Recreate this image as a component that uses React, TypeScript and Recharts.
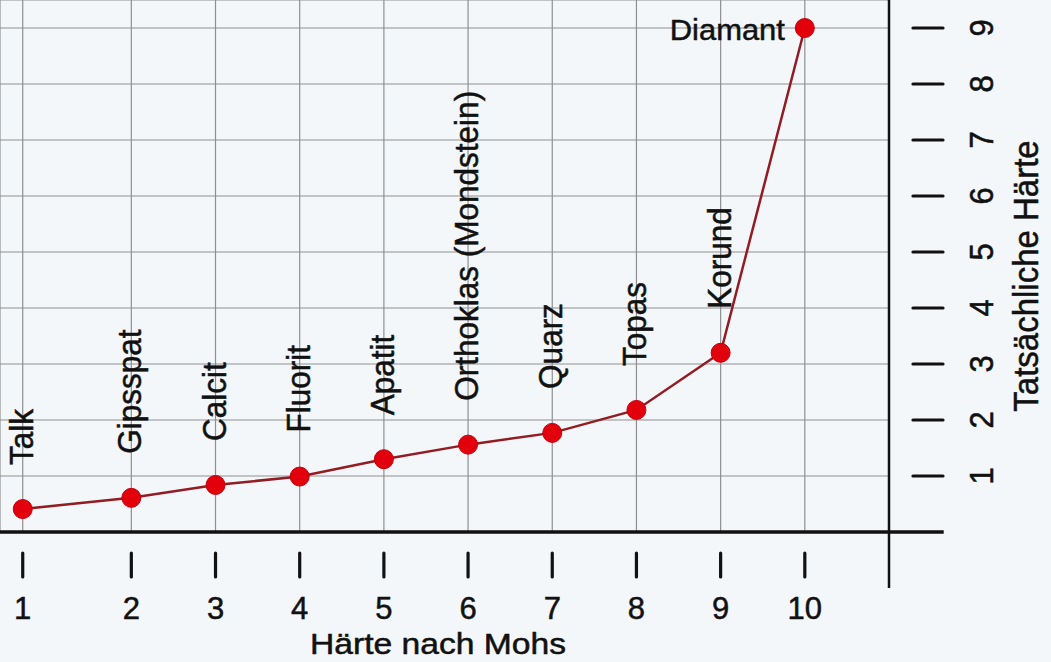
import { CartesianGrid, LabelList, Line, LineChart, ReferenceLine, XAxis, YAxis } from "recharts";

const mohs = [1, 2, 3, 4, 5, 6, 7, 8, 9, 10];
// where each Mohs step sits on the horizontal scale of the picture (step 1 is drawn a bit further left)
const mohsPos = [0.71, 2, 3, 4, 5, 6, 7, 8, 9, 10];
const minerals = [
  "Talk",
  "Gipsspat",
  "Calcit",
  "Fluorit",
  "Apatit",
  "Orthoklas (Mondstein)",
  "Quarz",
  "Topas",
  "Korund",
  "Diamant",
];
const actualHardness = [0.41, 0.61, 0.84, 0.99, 1.3, 1.56, 1.77, 2.18, 3.2, 9.0];
const yTicks = [1, 2, 3, 4, 5, 6, 7, 8, 9];

const daten = mohs.map((m, i) => ({
  mohs: m,
  pos: mohsPos[i],
  name: minerals[i],
  haerte: actualHardness[i],
}));

const FONT = "'Liberation Sans', Arial, Helvetica, sans-serif";
const INK = "#111";
// the scan makes the lettering look a bit heavier
const textStyle = { fontFamily: FONT, fill: INK, stroke: INK, strokeWidth: 0.5 };

const XTick = (props: any) => {
  const { x, y, index } = props;
  return (
    <g>
      <line x1={x} x2={x} y1={y + 21} y2={y + 45} stroke={INK} strokeWidth={3.2} strokeLinecap="round" />
      <text transform={`translate(${x},${y + 87})`} textAnchor="middle" fontSize={31} {...textStyle}>
        {mohs[index]}
      </text>
    </g>
  );
};

const YTick = (props: any) => {
  const { x, y, payload } = props;
  return (
    <g>
      <line x1={x + 24} x2={x + 54} y1={y} y2={y} stroke={INK} strokeWidth={3.2} strokeLinecap="round" />
      <text
        transform={`translate(${x + 92},${y}) scale(1.1,1) rotate(-90)`}
        textAnchor="middle"
        dy="0.36em"
        fontSize={31}
        {...textStyle}
      >
        {payload.value}
      </text>
    </g>
  );
};

const MineralLabel = (props: any) => {
  const { x, y, value, index } = props;
  if (index === minerals.length - 1) {
    return (
      <text transform={`translate(${x - 20},${y + 12}) scale(1.03,1)`} textAnchor="end" fontSize={30} {...textStyle}>
        {value}
      </text>
    );
  }
  return (
    <text
      transform={`translate(${x + 10},${y - 44}) scale(1.04,1) rotate(-90)`}
      textAnchor="start"
      fontSize={31.5}
      {...textStyle}
    >
      {value}
    </text>
  );
};

const Punkt = (props: any) => {
  const { cx, cy } = props;
  return <circle cx={cx} cy={cy} r={9.5} fill="#e3000d" stroke="#c4000b" strokeWidth={1} />;
};

export default function App() {
  return (
    <div style={{ position: "fixed", left: 0, top: 0, width: 1051, height: 662, background: "#f4f7fa" }}>
      <LineChart width={1051} height={662} data={daten} margin={{ top: 0, right: 0, bottom: 0, left: 0 }}>
        <CartesianGrid stroke="#8f8f8f" strokeWidth={1.2} />
        <XAxis
          type="number"
          dataKey="pos"
          domain={[0.44, 11.0]}
          ticks={mohsPos}
          interval={0}
          allowDataOverflow
          height={130}
          axisLine={false}
          tickLine={false}
          tickSize={0}
          tickMargin={0}
          tick={XTick}
          label={{
            content: (p: any) => {
              const vb = p.viewBox;
              return (
                <text
                  transform={`translate(${vb.x + 438},${vb.y + 122}) scale(1.16,1)`}
                  textAnchor="middle"
                  fontSize={29}
                  {...textStyle}
                >
                  Härte nach Mohs
                </text>
              );
            },
          }}
        />
        <YAxis
          orientation="right"
          width={162}
          domain={[0, 9.5]}
          ticks={yTicks}
          interval={0}
          allowDataOverflow
          axisLine={false}
          tickLine={false}
          tickSize={0}
          tickMargin={0}
          tick={YTick}
          label={{
            content: (p: any) => {
              const vb = p.viewBox;
              return (
                <text
                  transform={`translate(${vb.x + 137},${vb.y + 276}) scale(1.05,1) rotate(-90)`}
                  textAnchor="middle"
                  dy="0.36em"
                  fontSize={33}
                  {...textStyle}
                >
                  Tatsächliche Härte
                </text>
              );
            },
          }}
        />
        <ReferenceLine
          segment={[
            { x: 0.44, y: 0 },
            { x: 11.65, y: 0 },
          ]}
          stroke={INK}
          strokeWidth={3.5}
          ifOverflow="visible"
        />
        <ReferenceLine
          segment={[
            { x: 11.0, y: 9.5 },
            { x: 11.0, y: -1.0 },
          ]}
          stroke={INK}
          strokeWidth={2.5}
          ifOverflow="visible"
        />
        <Line
          type="linear"
          dataKey="haerte"
          stroke="#931c22"
          strokeWidth={2.5}
          dot={<Punkt />}
          activeDot={false}
          isAnimationActive={false}
        >
          <LabelList dataKey="name" content={MineralLabel} />
        </Line>
      </LineChart>
    </div>
  );
}
